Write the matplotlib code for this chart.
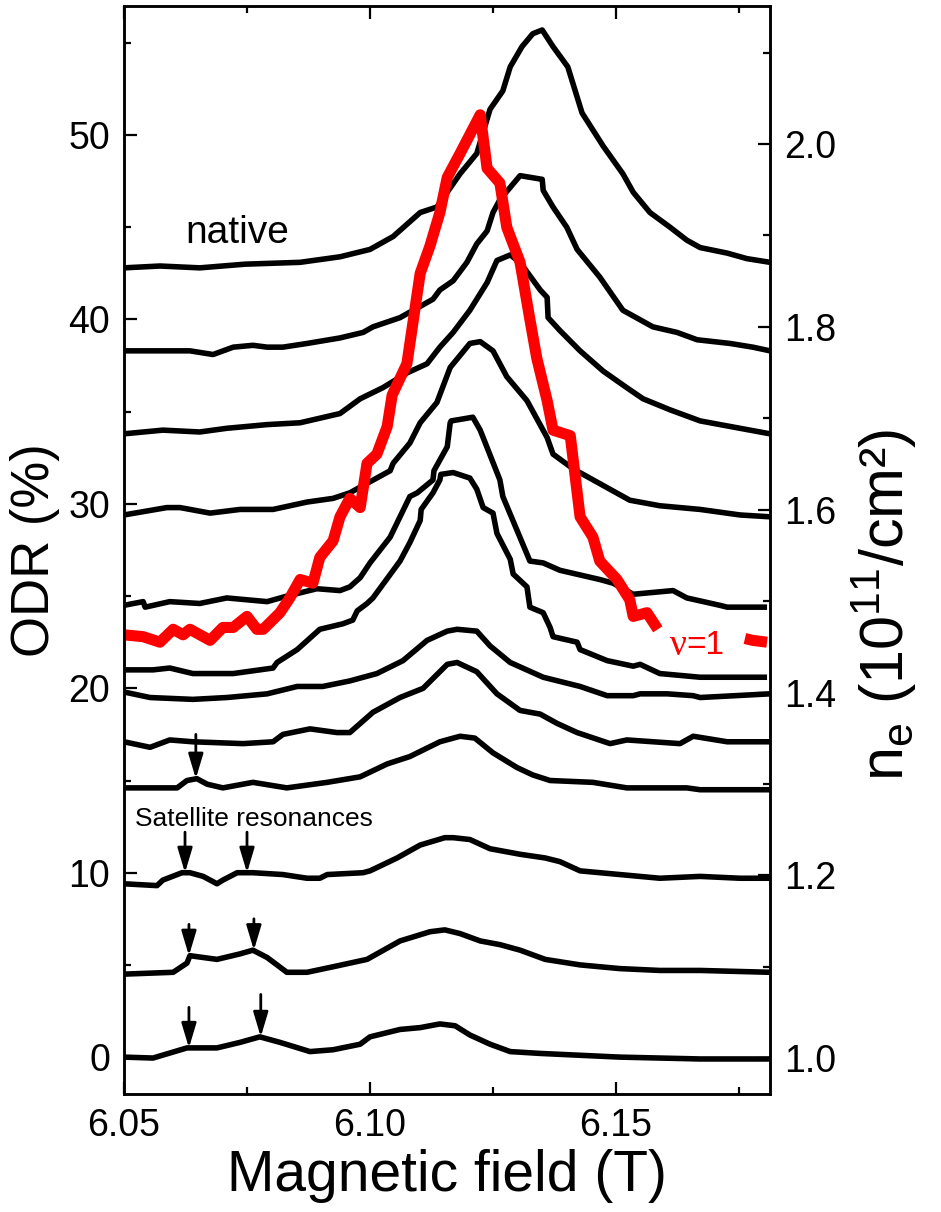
import matplotlib
matplotlib.use("Agg")
import matplotlib.pyplot as plt
import numpy as np
from matplotlib.ticker import MultipleLocator, FormatStrFormatter

plt.rcParams['font.family'] = ['Liberation Sans', 'DejaVu Sans']

# ODR traces (field in T, ODR in %), top ("native") to bottom
t1_field = [6.0500, 6.0573, 6.0654, 6.0746, 6.0858, 6.0939, 6.1000, 6.1047, 6.1102, 6.1136, 6.1183, 6.1217, 6.1244, 6.1270,
            6.1285, 6.1309, 6.1331, 6.1350, 6.1372, 6.1402, 6.1431, 6.1474, 6.1514, 6.1535, 6.1569, 6.1610, 6.1644, 6.1671,
            6.1726, 6.1766, 6.1813]
t1_odr = [42.8, 42.9, 42.8, 43.0, 43.1, 43.4, 43.8, 44.5, 45.8, 46.1, 47.9, 49.0, 51.4, 52.4,
          53.7, 54.8, 55.5, 55.7, 54.8, 53.7, 51.2, 49.4, 47.9, 46.9, 45.8, 45.0, 44.3, 43.9,
          43.6, 43.3, 43.1]

t2_field = [6.0500, 6.0567, 6.0634, 6.0681, 6.0722, 6.0762, 6.0791, 6.0823, 6.0872, 6.0939, 6.0986, 6.1006, 6.1061, 6.1128,
            6.1142, 6.1169, 6.1197, 6.1217, 6.1238, 6.1250, 6.1264, 6.1305, 6.1350, 6.1352, 6.1372, 6.1400, 6.1421, 6.1467,
            6.1514, 6.1575, 6.1624, 6.1665, 6.1732, 6.1778, 6.1813]
t2_odr = [38.3, 38.3, 38.3, 38.1, 38.5, 38.6, 38.5, 38.5, 38.7, 39.0, 39.3, 39.6, 40.1, 41.1,
          41.6, 42.1, 43.1, 44.1, 44.8, 45.8, 46.5, 47.8, 47.6, 47.0, 46.1, 45.0, 43.8, 42.3,
          40.5, 39.6, 39.3, 38.9, 38.7, 38.5, 38.3]

t3_field = [6.0500, 6.0579, 6.0654, 6.0709, 6.0791, 6.0858, 6.0939, 6.0980, 6.1026, 6.1075, 6.1116, 6.1142, 6.1169, 6.1203,
            6.1238, 6.1258, 6.1285, 6.1305, 6.1346, 6.1360, 6.1362, 6.1386, 6.1427, 6.1474, 6.1522, 6.1555, 6.1610, 6.1671,
            6.1752, 6.1813]
t3_odr = [33.8, 34.0, 33.9, 34.1, 34.3, 34.4, 34.9, 35.7, 36.3, 37.1, 37.6, 38.5, 39.3, 40.5,
          42.0, 43.2, 43.5, 43.1, 41.6, 41.2, 40.1, 39.4, 38.3, 37.2, 36.3, 35.7, 35.1, 34.5,
          34.1, 33.8]

t4_field = [6.0500, 6.0587, 6.0614, 6.0675, 6.0736, 6.0803, 6.0872, 6.0925, 6.0959, 6.1041, 6.1047, 6.1081, 6.1102, 6.1136,
            6.1163, 6.1203, 6.1224, 6.1250, 6.1278, 6.1319, 6.1360, 6.1372, 6.1413, 6.1467, 6.1528, 6.1589, 6.1671, 6.1752,
            6.1813]
t4_odr = [29.4, 29.8, 29.8, 29.5, 29.7, 29.7, 30.1, 30.3, 30.6, 31.8, 32.2, 33.3, 34.4, 35.5,
          37.4, 38.7, 38.8, 38.3, 36.9, 35.6, 33.6, 32.7, 31.9, 31.1, 30.2, 29.9, 29.7, 29.4,
          29.3]

t5_field = [6.0500, 6.0539, 6.0543, 6.0593, 6.0654, 6.0709, 6.0750, 6.0791, 6.0831, 6.0892, 6.0939, 6.0959, 6.0980, 6.1000,
            6.1041, 6.1081, 6.1096, 6.1128, 6.1130, 6.1157, 6.1163, 6.1165, 6.1209, 6.1224, 6.1264, 6.1270, 6.1325, 6.1352,
            6.1386, 6.1467, 6.1494, 6.1535, 6.1616, 6.1644, 6.1711, 6.1726, 6.1807]
t5_odr = [24.5, 24.7, 24.4, 24.7, 24.6, 24.9, 24.8, 24.7, 25.0, 25.4, 25.3, 25.5, 26.0, 26.8,
          28.2, 30.4, 30.6, 31.3, 31.8, 33.1, 34.4, 34.5, 34.7, 34.0, 31.3, 30.4, 26.9, 26.8,
          26.4, 25.9, 25.7, 25.1, 25.3, 24.9, 24.5, 24.4, 24.4]

t6_field = [6.0500, 6.0559, 6.0593, 6.0640, 6.0722, 6.0803, 6.0811, 6.0852, 6.0898, 6.0945, 6.0965, 6.0974, 6.0994, 6.1006,
            6.1061, 6.1081, 6.1102, 6.1104, 6.1128, 6.1142, 6.1144, 6.1169, 6.1203, 6.1217, 6.1230, 6.1250, 6.1258, 6.1285,
            6.1291, 6.1319, 6.1325, 6.1352, 6.1366, 6.1372, 6.1421, 6.1427, 6.1482, 6.1535, 6.1549, 6.1589, 6.1671, 6.1807]
t6_odr = [21.0, 21.0, 21.1, 20.8, 20.8, 21.1, 21.4, 22.1, 23.2, 23.5, 23.7, 24.2, 24.6, 24.9,
          26.9, 27.9, 29.1, 29.7, 30.6, 31.3, 31.6, 31.7, 31.4, 30.8, 29.8, 29.5, 28.4, 27.0,
          26.2, 25.5, 24.4, 24.1, 23.3, 22.8, 22.5, 22.1, 21.5, 21.2, 21.3, 20.8, 20.6, 20.6]

t7_field = [6.0500, 6.0553, 6.0640, 6.0709, 6.0791, 6.0852, 6.0904, 6.0959, 6.1014, 6.1067, 6.1116, 6.1157, 6.1177, 6.1217,
            6.1244, 6.1285, 6.1352, 6.1427, 6.1482, 6.1535, 6.1549, 6.1604, 6.1657, 6.1671, 6.1813]
t7_odr = [19.8, 19.5, 19.4, 19.5, 19.7, 20.1, 20.1, 20.4, 20.8, 21.5, 22.6, 23.1, 23.2, 23.1,
          22.3, 21.4, 20.6, 20.1, 19.6, 19.6, 19.7, 19.7, 19.6, 19.5, 19.7]

t8_field = [6.0500, 6.0553, 6.0593, 6.0640, 6.0742, 6.0803, 6.0823, 6.0878, 6.0933, 6.0959, 6.1006, 6.1061, 6.1108, 6.1157,
            6.1177, 6.1217, 6.1258, 6.1305, 6.1346, 6.1380, 6.1421, 6.1488, 6.1522, 6.1630, 6.1657, 6.1726, 6.1813]
t8_odr = [17.1, 16.8, 17.2, 17.1, 17.0, 17.1, 17.5, 17.8, 17.6, 17.6, 18.7, 19.5, 20.0, 21.3,
          21.4, 20.9, 19.7, 18.8, 18.6, 18.1, 17.6, 17.0, 17.2, 17.0, 17.4, 17.1, 17.1]

t9_field = [6.0500, 6.0608, 6.0628, 6.0648, 6.0669, 6.0701, 6.0762, 6.0831, 6.0913, 6.0980, 6.1035, 6.1081, 6.1142, 6.1183,
            6.1213, 6.1250, 6.1299, 6.1331, 6.1366, 6.1453, 6.1522, 6.1563, 6.1644, 6.1671, 6.1813]
t9_odr = [14.6, 14.6, 15.0, 15.1, 14.8, 14.6, 14.9, 14.6, 14.9, 15.2, 15.9, 16.3, 17.1, 17.4,
          17.3, 16.5, 15.7, 15.3, 15.0, 14.9, 14.6, 14.6, 14.6, 14.5, 14.5]

t10_field = [6.0500, 6.0567, 6.0579, 6.0618, 6.0634, 6.0661, 6.0689, 6.0701, 6.0730, 6.0762, 6.0823, 6.0872, 6.0898, 6.0913,
             6.0986, 6.1000, 6.1055, 6.1102, 6.1152, 6.1169, 6.1203, 6.1244, 6.1305, 6.1356, 6.1386, 6.1427, 6.1508, 6.1589,
             6.1671, 6.1752, 6.1813]
t10_odr = [9.4, 9.3, 9.6, 10.0, 10.0, 9.8, 9.4, 9.6, 10.0, 10.0, 9.9, 9.7, 9.7, 9.9,
           10.0, 10.1, 10.8, 11.5, 11.9, 11.9, 11.8, 11.3, 11.0, 10.8, 10.6, 10.1, 9.9, 9.7,
           9.8, 9.7, 9.7]

t11_field = [6.0500, 6.0600, 6.0628, 6.0634, 6.0689, 6.0736, 6.0762, 6.0791, 6.0831, 6.0872, 6.0925, 6.0994, 6.1061, 6.1122,
             6.1152, 6.1183, 6.1224, 6.1264, 6.1305, 6.1356, 6.1427, 6.1508, 6.1589, 6.1671, 6.1813]
t11_odr = [4.5, 4.6, 5.1, 5.5, 5.3, 5.6, 5.8, 5.4, 4.6, 4.6, 4.9, 5.3, 6.3, 6.8,
           6.9, 6.7, 6.3, 6.1, 5.8, 5.3, 5.0, 4.8, 4.7, 4.7, 4.6]

t12_field = [6.0500, 6.0559, 6.0628, 6.0689, 6.0736, 6.0776, 6.0817, 6.0878, 6.0925, 6.0980, 6.1000, 6.1061, 6.1102, 6.1142,
             6.1173, 6.1203, 6.1244, 6.1285, 6.1346, 6.1427, 6.1508, 6.1589, 6.1671, 6.1813]
t12_odr = [0.0, -0.05, 0.5, 0.5, 0.8, 1.1, 0.8, 0.3, 0.4, 0.7, 1.1, 1.5, 1.6, 1.8,
           1.7, 1.2, 0.7, 0.3, 0.2, 0.1, 0.0, -0.05, -0.1, -0.1]

# nu = 1 position vs electron density (right axis expressed on the ODR scale); gap where the label sits
nu1_field = [6.0500, 6.0539, 6.0573, 6.0600, 6.0620, 6.0634, 6.0675, 6.0701, 6.0722, 6.0750, 6.0770, 6.0783, 6.0817, 6.0837,
             6.0858, 6.0884, 6.0898, 6.0925, 6.0939, 6.0959, 6.0980, 6.0994, 6.1014, 6.1035, 6.1045, 6.1075, 6.1102, 6.1122,
             6.1142, 6.1157, 6.1183, 6.1224, 6.1238, 6.1264, 6.1278, 6.1305, 6.1325, 6.1339, 6.1360, 6.1372, 6.1407, 6.1427,
             6.1453, 6.1467, 6.1502, 6.1528, 6.1535, 6.1563, 6.1585, np.nan, 6.1762, 6.1778, 6.1807]
nu1_odr = [22.9, 22.8, 22.5, 23.2, 22.9, 23.2, 22.6, 23.3, 23.3, 23.9, 23.2, 23.2, 24.1, 24.9,
           25.9, 25.7, 27.1, 28.0, 29.3, 30.3, 29.8, 32.2, 32.7, 34.2, 35.9, 37.6, 42.5, 44.0,
           45.8, 47.7, 49.0, 51.1, 48.2, 47.4, 45.0, 43.1, 40.0, 37.9, 35.6, 34.0, 33.7, 29.3,
           28.2, 26.9, 25.9, 24.8, 23.9, 24.1, 23.2, np.nan, 22.7, 22.6, 22.5]

# satellite resonance arrows: field, arrow tail and tip (ODR)
arrow_field = [6.0646, 6.0624, 6.0750, 6.0632, 6.0764, 6.0632, 6.0778]
arrow_tail = [17.5, 12.2, 12.2, 7.2, 7.5, 2.7, 3.4]
arrow_tip = [15.1, 10.0, 10.0, 5.5, 5.8, 0.5, 1.1]

traces = [(t1_field, t1_odr), (t2_field, t2_odr), (t3_field, t3_odr), (t4_field, t4_odr),
          (t5_field, t5_odr), (t6_field, t6_odr), (t7_field, t7_odr), (t8_field, t8_odr),
          (t9_field, t9_odr), (t10_field, t10_odr), (t11_field, t11_odr), (t12_field, t12_odr)]

fig = plt.figure(figsize=(9.41, 12.12), dpi=100)
ax = fig.add_axes([124 / 941, 1 - 1094 / 1212, 646 / 941, 1088 / 1212])

for f, o in traces:
    ax.plot(f, o, color='black', lw=4.0, solid_joinstyle='round', solid_capstyle='butt', zorder=2)

ax.plot(nu1_field, nu1_odr, color='#ff0000', lw=8.0, solid_joinstyle='round', solid_capstyle='butt', zorder=3)

for xf, ya, yb in zip(arrow_field, arrow_tail, arrow_tip):
    ax.annotate('', xy=(xf, yb), xytext=(xf, ya),
                arrowprops=dict(arrowstyle='-|>,head_length=1.5,head_width=0.45', color='black', lw=2.0,
                                shrinkA=0, shrinkB=0, mutation_scale=10))

ax.text(6.0730, 44.7, 'native', fontsize=28, ha='center', va='center')
ax.text(6.0764, 12.9, 'Satellite resonances', fontsize=19, ha='center', va='center')
ax.text(6.1643, 22.3, 'ν', fontsize=27, ha='right', va='center', color='#ff0000',
        family=['Liberation Serif', 'DejaVu Serif'])
ax.text(6.1643, 22.3, '=1', fontsize=24, ha='left', va='center', color='#ff0000')

ax.set_xlim(6.05, 6.1813)
ax.set_ylim(-2.0, 57.0)
ax.xaxis.set_major_locator(MultipleLocator(0.05))
ax.xaxis.set_minor_locator(MultipleLocator(0.025))
ax.xaxis.set_major_formatter(FormatStrFormatter('%.2f'))
ax.yaxis.set_major_locator(MultipleLocator(10))
ax.yaxis.set_minor_locator(MultipleLocator(5))
ax.tick_params(which='both', direction='in', top=True, width=1.6, labelsize=27, pad=10)
ax.tick_params(which='major', length=9)
ax.tick_params(which='minor', length=5)
ax.set_xlabel('Magnetic field (T)', fontsize=41, labelpad=4)
ax.set_ylabel('ODR (%)', fontsize=38, labelpad=6)

ax2 = ax.twinx()
ax2.set_ylim(0.961, 2.151)
ax2.yaxis.set_major_locator(MultipleLocator(0.2))
ax2.yaxis.set_minor_locator(MultipleLocator(0.1))
ax2.yaxis.set_major_formatter(FormatStrFormatter('%.1f'))
ax2.tick_params(which='both', direction='in', width=1.6, labelsize=27, pad=10)
ax2.tick_params(which='major', length=9)
ax2.tick_params(which='minor', length=5)
ax2.set_ylabel(r'n$_\mathregular{e}$ (10$^\mathregular{11}$/cm²)', fontsize=44, labelpad=10)
ax2.yaxis.label.set_y(0.45)

for a in (ax, ax2):
    for s in a.spines.values():
        s.set_linewidth(1.8)

fig.savefig('out.png', dpi=100)
